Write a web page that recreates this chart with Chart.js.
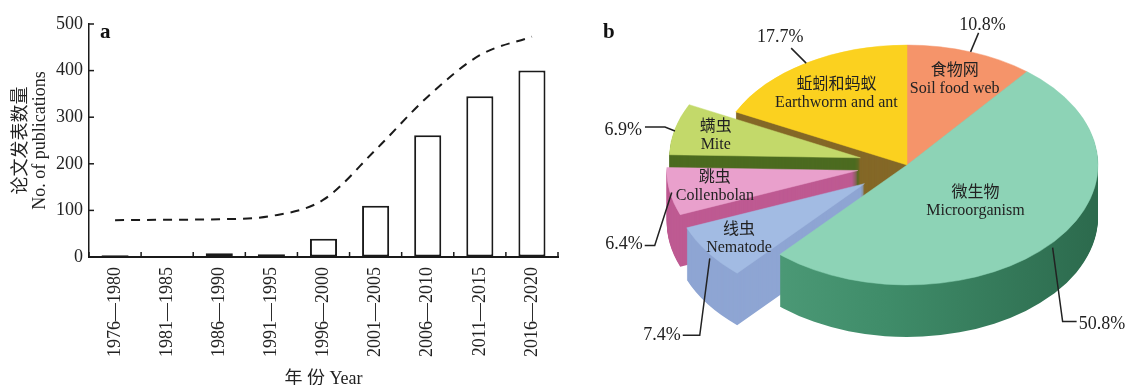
<!DOCTYPE html>
<html><head><meta charset="utf-8">
<script src="https://cdn.jsdelivr.net/npm/chart.js@4.4.1/dist/chart.umd.min.js"></script>
<style>
html,body{margin:0;padding:0;background:#fff;}
#wrap{position:relative;width:1129px;height:385px;overflow:hidden;background:#fff;}
#ca{position:absolute;left:0;top:0;}
#cb{position:absolute;left:575px;top:0;}
</style></head><body>
<div id="wrap">
<canvas id="ca" width="575" height="385"></canvas>
<canvas id="cb" width="554" height="385"></canvas>
</div>
<script>
const SERIF = "'Liberation Serif','Times New Roman','Noto Sans CJK SC',serif";

// ---------- Panel a data ----------
const categories = ['1976—1980','1981—1985','1986—1990','1991—1995','1996—2000','2001—2005','2006—2010','2011—2015','2016—2020'];
const publications = [4, 2, 8, 6, 39, 110, 261, 345, 400];
const trend = [79, 80, 81, 88, 123, 230, 344, 433, 473];
const yTickValues = [0, 100, 200, 300, 400, 500];

// ---------- Panel b data ----------
const pieCategoriesCN = ['食物网', '微生物', '线虫', '跳虫', '螨虫', '蚯蚓和蚂蚁'];
const pieCategoriesEN = ['Soil food web', 'Microorganism', 'Nematode', 'Collenbolan', 'Mite', 'Earthworm and ant'];
const pieShares = [10.8, 50.8, 7.4, 6.4, 6.9, 17.7];
const piePercentLabels = ['10.8%', '50.8%', '7.4%', '6.4%', '6.9%', '17.7%'];
const pieTopColors = ['#F5946A', '#8DD3B6', '#A2BBE3', '#E9A0CC', '#C3D96A', '#FBD11F'];
const pieSideColors = ['#C8704A', '#3F8B68', '#8EA5D3', '#BE5A92', '#4C6B20', '#846827'];
const pieExplode = [0, 0, 52, 50, 48, 0];
const labelRadius = [0.75, 0.47, 0.80, 0.76, 0.78, 0.70];
// leader lines relative to rim point, and percent-label anchor
const leaderPaths = [
  [[0,0],[8,-19]],
  [[0,5],[10,79],[24,79]],
  [[2,6],[-8,83],[-25,83]],
  [[2,1],[-15,54],[-25,54]],
  [[0,2],[-10,-2],[-30,-2]],
  [[0,0],[-15,-15]]
];
const pctAnchors = [[12,-27,'center'],[26,82,'left'],[-27,83,'right'],[-27,53,'right'],[-33,1,'right'],[-26,-26,'center']];
const TILT = 0.628, DEPTH = 52;

// ---------- Panel a ----------
const inwardTicks = {
  id: 'inwardTicks',
  afterDraw(chart) {
    const {ctx, scales: {x, y}, chartArea: a} = chart;
    ctx.save();
    ctx.strokeStyle = '#1a1a1a';
    ctx.lineWidth = 1.5;
    yTickValues.forEach(v => {
      const py = y.getPixelForValue(v);
      ctx.beginPath(); ctx.moveTo(a.left, py); ctx.lineTo(a.left + 5, py); ctx.stroke();
    });
    const half = (x.getPixelForValue(1) - x.getPixelForValue(0)) / 2;
    for (let i = 0; i <= categories.length; i++) {
      const px = x.getPixelForValue(0) - half + 2 * half * i;
      ctx.beginPath(); ctx.moveTo(px, a.bottom); ctx.lineTo(px, a.bottom - 5); ctx.stroke();
    }
    ctx.fillStyle = '#111';
    ctx.font = 'bold 21px ' + SERIF;
    ctx.textBaseline = 'middle';
    ctx.textAlign = 'left';
    ctx.fillText('a', a.left + 11, a.top + 9);
    ctx.restore();
  }
};

new Chart(document.getElementById('ca'), {
  data: {
    labels: categories,
    datasets: [
      { type: 'line', data: trend, borderColor: '#1a1a1a', borderWidth: 2, borderDash: [9, 7],
        pointRadius: 0, fill: false, cubicInterpolationMode: 'monotone', order: 0 },
      { type: 'bar', data: publications, backgroundColor: '#ffffff', borderColor: '#1a1a1a',
        borderWidth: 2, borderSkipped: false, categoryPercentage: 1, barPercentage: 0.52, order: 1 }
    ]
  },
  options: {
    responsive: false, animation: false, events: [],
    layout: { padding: { left: 0, top: 24, right: 17, bottom: 0 } },
    plugins: { legend: { display: false }, tooltip: { enabled: false } },
    scales: {
      x: {
        offset: true,
        grid: { offset: true, drawOnChartArea: false, drawTicks: false },
        border: { display: true, color: '#1a1a1a', width: 2 },
        ticks: { font: { family: SERIF, size: 18 }, color: '#222', minRotation: 90, maxRotation: 90, padding: 10, autoSkip: false },
        title: { display: true, text: '年 份 Year', font: { family: SERIF, size: 18, lineHeight: 1.2 }, color: '#222', padding: { top: 0, bottom: -5 } },
        afterFit(s) { s.height = 128; }
      },
      y: {
        min: 0, max: 500,
        afterBuildTicks(s) { s.ticks = yTickValues.map(v => ({ value: v })); },
        grid: { drawOnChartArea: false, drawTicks: false },
        border: { color: '#1a1a1a', width: 1.5 },
        ticks: { font: { family: SERIF, size: 18 }, color: '#222', padding: 6 },
        title: { display: true, text: ['论文发表数量', 'No. of publications'], font: { family: SERIF, size: 18, lineHeight: 1.1 }, color: '#222', padding: { top: 11, bottom: 0 } },
        afterFit(s) { s.width = 89; }
      }
    }
  },
  plugins: [inwardTicks]
});

// ---------- Panel b ----------
const pie3d = {
  id: 'pie3d',
  afterDatasetUpdate(chart) {
    const a = chart.chartArea;
    const cx = (a.left + a.right) / 2, cy = (a.top + a.bottom) / 2;
    chart.getDatasetMeta(0).data.forEach((arc, i) => {
      const mid = (arc.startAngle + arc.endAngle) / 2;
      arc.x = cx + Math.cos(mid) * pieExplode[i];
      arc.y = cy + Math.sin(mid) * pieExplode[i];
    });
  },
  beforeDatasetsDraw(chart) {
    const {ctx, chartArea: a} = chart;
    const cx = (a.left + a.right) / 2, cy = (a.top + a.bottom) / 2;
    const meta = chart.getDatasetMeta(0);
    const R = meta.data[0].outerRadius;
    // shaded side for the large slice: lighter at the front-left, darker at the right
    const greenSide = ctx.createLinearGradient(cx - R, 0, cx + R, 0);
    greenSide.addColorStop(0, '#52A07D');
    greenSide.addColorStop(0.45, '#3F8C69');
    greenSide.addColorStop(1, '#2C6A4D');
    ctx.save();
    ctx.translate(cx, cy); ctx.scale(1, TILT); ctx.translate(-cx, -cy);
    for (let d = DEPTH; d >= 1; d--) {
      meta.data.forEach((arc, i) => {
        const el = new Chart.ArcElement({
          x: arc.x, y: arc.y + d / TILT, startAngle: arc.startAngle, endAngle: arc.endAngle,
          innerRadius: 0, outerRadius: arc.outerRadius, circumference: arc.circumference
        });
        const col = i === 1 ? greenSide : pieSideColors[i];
        el.options = { backgroundColor: col, borderColor: col, borderWidth: 0,
          borderAlign: 'center', offset: 0, spacing: 0, circular: true, borderRadius: 0,
          borderDash: [], borderDashOffset: 0 };
        el.draw(ctx);
      });
    }
  },
  afterDatasetsDraw(chart) {
    const {ctx, chartArea: a} = chart;
    ctx.restore();
    const cy = (a.top + a.bottom) / 2;
    const map = (px, py) => [px, cy + (py - cy) * TILT];
    const meta = chart.getDatasetMeta(0);
    ctx.save();
    ctx.fillStyle = '#222';
    ctx.strokeStyle = '#222';
    ctx.lineWidth = 1.5;
    meta.data.forEach((arc, i) => {
      const mid = (arc.startAngle + arc.endAngle) / 2;
      const R = arc.outerRadius;
      const [lx, ly] = map(arc.x + Math.cos(mid) * R * labelRadius[i], arc.y + Math.sin(mid) * R * labelRadius[i]);
      ctx.font = '16px ' + SERIF;
      ctx.textAlign = 'center';
      ctx.textBaseline = 'middle';
      ctx.fillText(pieCategoriesCN[i], lx, ly - 9);
      ctx.fillText(pieCategoriesEN[i], lx, ly + 9);
      const [px, py] = map(arc.x + Math.cos(mid) * R, arc.y + Math.sin(mid) * R);
      ctx.beginPath();
      leaderPaths[i].forEach((p, k) => { if (k === 0) ctx.moveTo(px + p[0], py + p[1]); else ctx.lineTo(px + p[0], py + p[1]); });
      ctx.stroke();
      const t = pctAnchors[i];
      ctx.font = '18px ' + SERIF;
      ctx.textAlign = t[2];
      ctx.fillText(piePercentLabels[i], px + t[0], py + t[1]);
    });
    ctx.fillStyle = '#111';
    ctx.font = 'bold 21px ' + SERIF;
    ctx.textAlign = 'left';
    ctx.fillText('b', 28, 33);
    ctx.restore();
  }
};

new Chart(document.getElementById('cb'), {
  type: 'pie',
  data: {
    labels: pieCategoriesEN,
    datasets: [{
      data: pieShares, backgroundColor: pieTopColors, borderColor: pieTopColors, borderWidth: 0.6,
      radius: 191, clip: false
    }]
  },
  options: {
    responsive: false, animation: false, events: [],
    layout: { padding: { left: 110, right: 0, top: 0, bottom: 55 } },
    plugins: { legend: { display: false }, tooltip: { enabled: false } }
  },
  plugins: [pie3d]
});
</script>
</body></html>
